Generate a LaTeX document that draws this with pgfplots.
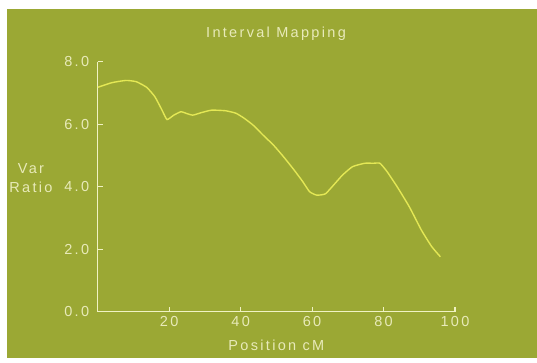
\documentclass[border=0pt]{standalone}
\usepackage{pgfplots}
\pgfplotsset{compat=1.18}
\usepackage{fontspec}
\setmainfont{Liberation Sans}[LetterSpace=16]
\definecolor{bgg}{RGB}{155,168,52}
\definecolor{txt}{RGB}{232,234,185}
\definecolor{crv}{RGB}{228,232,85}
\definecolor{axl}{RGB}{240,242,195}
\newcommand{\fs}{\fontsize{14.5}{17}\selectfont}
\begin{document}
\begin{tikzpicture}[x=1pt,y=1pt]
\useasboundingbox (0,0) rectangle (537,362);
\fill[white] (0,0) rectangle (537,362);
\fill[bgg] (7,4) rectangle (537,353);
\node[text=txt,font=\fs] at (276,328.7) {Interval Mapping};
\node[text=txt,font=\fs,align=center,inner sep=0pt] at (31,183.5) {Var\\[2pt]Ratio};
\begin{axis}[
  at={(97.7pt,50.3pt)}, anchor=south west,
  scale only axis, width=357.3pt, height=250pt,
  xmin=0, xmax=100, ymin=0, ymax=8,
  axis x line=bottom, axis y line=left,
  axis line style={-, draw=axl, line width=1.1pt},
  xtick={20,40,60,80,100}, ytick={0,2,4,6,8},
  every tick/.style={draw=axl, line width=1.1pt},
  tick align=inside, major tick length=5pt,
  ticklabel style={text=txt, font=\fs},
  /pgf/number format/assume math mode=true,
  yticklabel style={/pgf/number format/fixed, /pgf/number format/fixed zerofill, /pgf/number format/precision=1, xshift=-5pt},
  xticklabel style={yshift=-1pt},
  xlabel={Position cM},
  xlabel style={text=txt, font=\fs, at={(axis description cs:0.5,0)}, anchor=center, yshift=-34pt},
  clip=false,
]
\addplot[crv, line width=1.4pt, smooth, tension=0.3] coordinates {
(0,7.18) (4,7.33) (7.9,7.40) (10.8,7.36) (13.7,7.18) (16,6.88) (18,6.45)
(19.4,6.15) (21.3,6.29) (23.3,6.40) (24.7,6.35) (26.6,6.29) (29,6.37)
(31.9,6.45) (35.8,6.43) (38.7,6.35) (41,6.19) (43.5,5.97) (46.3,5.65)
(49.2,5.33) (52,4.96) (55,4.53) (57.4,4.16) (59.3,3.84) (61.3,3.73)
(63.7,3.77) (66,4.05) (68.5,4.37) (71.3,4.64) (74.7,4.75) (77.1,4.75)
(79,4.75) (81,4.48) (83.8,4.0) (87.2,3.36) (90.6,2.61) (93.5,2.08) (95.9,1.76)
};
\end{axis}
\end{tikzpicture}
\end{document}
